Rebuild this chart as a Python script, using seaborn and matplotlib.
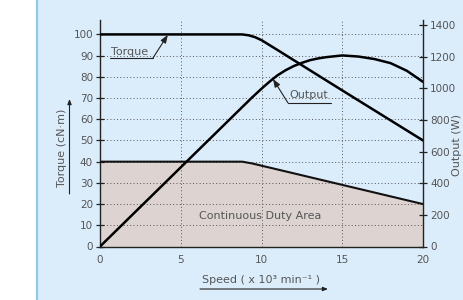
import matplotlib
matplotlib.use("Agg")
import matplotlib.pyplot as plt
import seaborn as sns
import pandas as pd
from matplotlib.lines import Line2D
from matplotlib.patches import Rectangle, FancyArrowPatch

# ---- data ----
torque_speed = [0, 8.8, 9.2, 9.6, 10, 11, 15, 20]
torque_vals = [100, 100, 99.6, 98.7, 97.3, 92.6, 73.6, 50]

cont_speed = [0, 8.8, 9.4, 20]
cont_torque = [40, 40, 39.2, 20]

output_speed = [0, 5, 9, 9.4, 9.8, 10.2, 10.6, 11, 11.5, 12, 12.5, 13, 13.5, 14, 15, 16, 17, 18, 19, 20]
output_vals = [0, 500, 900, 940, 978, 1015, 1050, 1082, 1114, 1140, 1160, 1177, 1188, 1196, 1207, 1200, 1184, 1158, 1110, 1040]

x_ticks = [0, 5, 10, 15, 20]
torque_ticks = [0, 10, 20, 30, 40, 50, 60, 70, 80, 90, 100]
output_ticks = [0, 200, 400, 600, 800, 1000, 1200, 1400]

BG = "#dbedfb"
FILL = "#ddd4d1"
TXT = "#555555"
AX = "#222222"

sns.set_theme(style="white")
plt.rcParams["font.family"] = ["DejaVu Sans"]

W, H = 463, 300
fig = plt.figure(figsize=(W / 100, H / 100), dpi=100)
fig.patch.set_facecolor(BG)
fig.patches.append(Rectangle((0, 0), 36 / W, 1, transform=fig.transFigure,
                             facecolor="white", edgecolor="none", zorder=0))
fig.lines.append(Line2D([37 / W, 37 / W], [0, 1], transform=fig.transFigure,
                        color="#86cdf0", lw=1.6))

ax = fig.add_axes([100 / W, 1 - 246.5 / H, 323 / W, 226.5 / H])
ax.set_facecolor(BG)

df_t = pd.DataFrame({"speed": torque_speed, "torque": torque_vals})
df_c = pd.DataFrame({"speed": cont_speed, "torque": cont_torque})
df_o = pd.DataFrame({"speed": output_speed, "output": output_vals})

ax.fill_between(df_c["speed"], 0, df_c["torque"], color=FILL, lw=0, zorder=1)
sns.lineplot(data=df_c, x="speed", y="torque", ax=ax, color="#111111", lw=1.5,
             zorder=3, estimator=None, sort=False)
sns.lineplot(data=df_t, x="speed", y="torque", ax=ax, color="#000000", lw=1.8,
             zorder=3, estimator=None, sort=False)

ymax = 106.8
ax.set_xlim(0, 20)
ax.set_ylim(0, ymax)
ax.set_xticks(x_ticks)
ax.set_yticks(torque_ticks)
ax.set_xlabel("")
ax.set_ylabel("")
ax.grid(True, linestyle=(0, (1, 2.4)), color="#555555", lw=0.7)
ax.set_axisbelow("line")

ax2 = ax.twinx()
sns.lineplot(data=df_o, x="speed", y="output", ax=ax2, color="#000000", lw=1.8,
             estimator=None, sort=False)
ax2.set_ylim(0, ymax * 1400 / 104.5)
ax2.set_yticks(output_ticks)
ax2.set_ylabel("")
ax2.grid(False)
ax2.patch.set_visible(False)

for a in (ax, ax2):
    a.spines["top"].set_visible(False)
    for s in ("left", "right", "bottom"):
        a.spines[s].set_color(AX)
        a.spines[s].set_linewidth(1.0)
    a.tick_params(direction="inout", length=6, width=0.9, color=AX,
                  labelsize=7.5, labelcolor=TXT, pad=2)
ax.spines["right"].set_visible(False)
ax2.spines["left"].set_visible(False)
ax2.spines["bottom"].set_visible(False)
ax.tick_params(axis="x", pad=3)

# annotations
FS = 8
ax.text(0.7, 91.6, "Torque", fontsize=FS, color=TXT, va="center", ha="left")
ax.plot([0.62, 3.28], [88.9, 88.9], color=AX, lw=0.8, clip_on=False)
ax.annotate("", xy=(4.2, 99.8), xytext=(3.28, 88.9),
            arrowprops=dict(arrowstyle="-|>,head_length=0.4,head_width=0.15",
                            color=AX, lw=0.8, shrinkA=0, shrinkB=0))

ax.text(11.72, 71.5, "Output", fontsize=FS, color=TXT, va="center", ha="left")
ax.plot([11.64, 14.3], [67.7, 67.7], color=AX, lw=0.8, clip_on=False)
ax.annotate("", xy=(10.71, 79.0), xytext=(11.64, 67.7),
            arrowprops=dict(arrowstyle="-|>,head_length=0.4,head_width=0.15",
                            color=AX, lw=0.8, shrinkA=0, shrinkB=0))

ax.text(9.9, 14.4, "Continuous Duty Area", fontsize=FS, color=TXT,
        ha="center", va="center")

# axis labels
fig.text(261.5 / W, 1 - 280 / H, "Speed ( x 10³ min⁻¹ )", fontsize=FS,
         color=TXT, ha="center", va="center")
fig.patches.append(FancyArrowPatch((200 / W, 1 - 289 / H), (328 / W, 1 - 289 / H),
                                   transform=fig.transFigure,
                                   arrowstyle="-|>,head_length=3,head_width=1.2",
                                   color=AX, lw=0.8, shrinkA=0, shrinkB=0))

fig.text(62 / W, 1 - 148 / H, "Torque (cN·m)", fontsize=FS, color=TXT,
         ha="center", va="center", rotation=90)
fig.patches.append(FancyArrowPatch((69.5 / W, 1 - 194 / H), (69.5 / W, 1 - 99 / H),
                                   transform=fig.transFigure,
                                   arrowstyle="-|>,head_length=3,head_width=1.2",
                                   color=AX, lw=0.8, shrinkA=0, shrinkB=0))

fig.text(457.5 / W, 1 - 145 / H, "Output (W)", fontsize=FS, color=TXT,
         ha="center", va="center", rotation=90)

fig.savefig("out.png", dpi=100, facecolor=fig.get_facecolor())
